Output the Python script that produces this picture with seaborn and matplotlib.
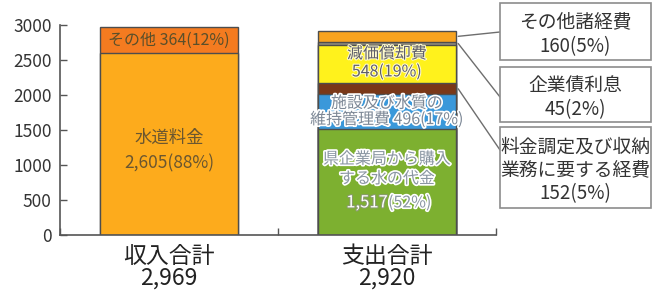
import numpy as np
import pandas as pd
import matplotlib
matplotlib.use('Agg')
import matplotlib.pyplot as plt
import matplotlib.patheffects as pe
from matplotlib.patches import Rectangle
import seaborn as sns

# Data
categories = ['収入合計\n2,969', '支出合計\n2,920']

income_names = ['水道料金', 'その他']
income_values = [2605, 364]
income_pct = [88, 12]
income_colors = ['#fdab1c', '#f47b20']

expense_names = ['県企業局から購入\nする水の代金', '施設及び水質の\n維持管理費',
                 '料金調定及び収納\n業務に要する経費', '減価償却費', '企業債利息', 'その他諸経費']
expense_values = [1517, 496, 152, 548, 45, 160]
expense_pct = [52, 17, 5, 19, 2, 5]
expense_colors = ['#7db030', '#3a98da', '#7a3818', '#fff21c', '#8f8a7a', '#f8a31e']

yticks = [0, 500, 1000, 1500, 2000, 2500, 3000]

sns.set_style('white')
plt.rcParams['font.family'] = ['Noto Sans CJK JP', 'DejaVu Sans']

fig = plt.figure(figsize=(6.52, 2.90), dpi=100)
ax = fig.add_axes([60 / 652, 55 / 290, 436 / 652, 210 / 290])

BAR_W = 0.633
EDGE = '#4d4d4d'


def draw_stack(cat, values, colors):
    # draw cumulative totals from the top down so each segment shows
    tops = np.cumsum(values)
    for top, col in zip(tops[::-1], colors[::-1]):
        df = pd.DataFrame({'cat': [cat], 'val': [top]})
        sns.barplot(data=df, x='cat', y='val', order=categories, color=col,
                    saturation=1, width=BAR_W, errorbar=None,
                    edgecolor=EDGE, linewidth=1, ax=ax)
    return tops


inc_tops = draw_stack(categories[0], income_values, income_colors)
exp_tops = draw_stack(categories[1], expense_values, expense_colors)
inc_mid = inc_tops - np.array(income_values) / 2
exp_mid = exp_tops - np.array(expense_values) / 2

halo = [pe.withStroke(linewidth=2.4, foreground='white')]
LBL = 11.5

# income labels
ax.text(0, inc_mid[1], f'{income_names[1]} {income_values[1]}({income_pct[1]}%)',
        ha='center', va='center', fontsize=LBL, color='#5a4f2a')
ax.text(0, inc_mid[0] - 100, f'{income_names[0]}\n{income_values[0]:,}({income_pct[0]}%)',
        ha='center', va='center', fontsize=12.5, color='#6a5630', linespacing=1.5)

# expense labels inside the bar
ax.text(1, exp_mid[3] + 20, f'{expense_names[3]}\n{expense_values[3]}({expense_pct[3]}%)',
        ha='center', va='center', fontsize=LBL, color='#5e5e6a', linespacing=1.08,
        path_effects=[pe.withStroke(linewidth=1.5, foreground='#fffbd0')])
ax.text(1, exp_mid[1], f'{expense_names[1]} {expense_values[1]}({expense_pct[1]}%)',
        ha='center', va='center', fontsize=LBL, color='#7d8896', linespacing=0.95,
        path_effects=halo)
ax.text(1, exp_mid[0] + 185, expense_names[0], ha='center', va='center',
        fontsize=LBL, color='#8a96a2', linespacing=1.2, path_effects=halo)
ax.text(1.005, exp_mid[0] - 300, f'{expense_values[0]:,}', ha='right', va='center',
        fontsize=12, color='white',
        path_effects=[pe.withStroke(linewidth=1.5, foreground='#8a9a70')])
ax.text(1.005, exp_mid[0] - 300, f'({expense_pct[0]}%)', ha='left', va='center',
        fontsize=LBL, color='#8a96a2', path_effects=halo)

# callout boxes on the right (figure pixels: index, top, line y, height, spacing)
boxes = [
    (5, 3, 32, 57, 1.25),
    (4, 67, 97, 55, 1.2),
    (2, 127, 150, 81, 1.15),
]
bar_right = 1 + BAR_W / 2
for idx, ytop, yline, h, ls in boxes:
    rect = Rectangle((500 / 652, (290 - ytop - h) / 290), 151 / 652, h / 290,
                     transform=fig.transFigure, facecolor='white',
                     edgecolor='#8c8c8c', linewidth=1.2)
    fig.patches.append(rect)
    name = expense_names[idx] if idx == 2 else expense_names[idx].replace('\n', '')
    fig.text(575 / 652, (290 - ytop - h / 2 - 3) / 290,
             f'{name}\n{expense_values[idx]}({expense_pct[idx]}%)',
             ha='center', va='center', fontsize=13.5, color='#333333',
             linespacing=ls)
    ax.annotate('', xy=(bar_right + 0.01, exp_mid[idx]), xycoords='data',
                xytext=(500, 290 - yline), textcoords='figure pixels',
                arrowprops=dict(arrowstyle='-', color='#6e6e6e', lw=1,
                                shrinkA=0, shrinkB=0))

# axes styling
ax.set_xlim(-0.5, 1.5)
ax.set_ylim(0, 3000)
ax.set_yticks(yticks)
ax.set_yticklabels([str(t) for t in yticks], fontsize=12.5, color='#333333')
ax.set_xticks([0, 1])
ax.set_xticklabels(categories, fontsize=16.5, color='#222222', linespacing=0.92)
ax.set_xticks([-0.5, 0.5, 1.5], minor=True)
ax.tick_params(axis='x', which='major', length=0, pad=7)
ax.tick_params(axis='x', which='minor', direction='in', length=5, color='#555555', width=1, bottom=True)
ax.tick_params(axis='y', direction='in', length=5, color='#555555', width=1, left=True, pad=6)
ax.set_xlabel('')
ax.set_ylabel('')
sns.despine(ax=ax, top=True, right=True)
for s in ['left', 'bottom']:
    ax.spines[s].set_color('#555555')
    ax.spines[s].set_linewidth(1.2)

fig.savefig('out.png', dpi=100)
